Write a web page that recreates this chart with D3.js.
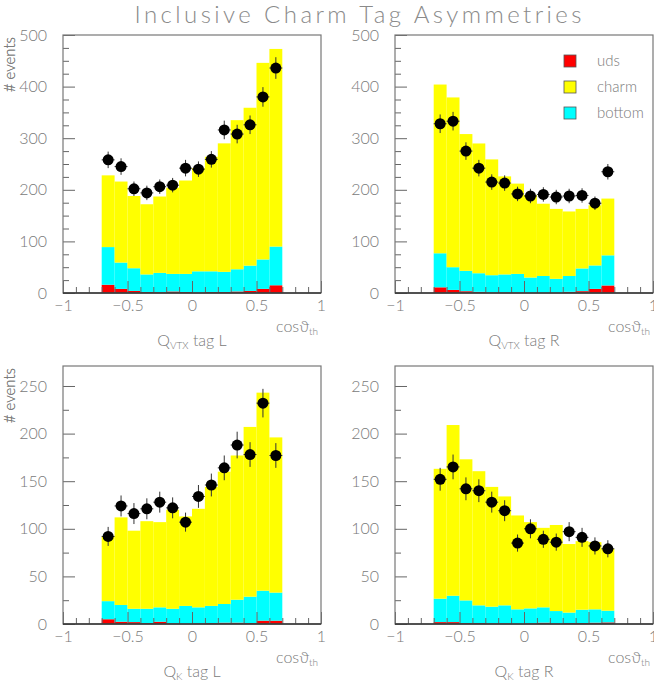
<!DOCTYPE html>
<html>
<head>
<meta charset="utf-8">
<script src="https://cdn.jsdelivr.net/npm/d3@7"></script>
<style>
    body { margin: 0; background: #fff; }
    svg { display: block; }
    text { font-family: Lato, "Liberation Sans", sans-serif; font-weight: 300; fill: #7a7a7a; }
</style>
</head>
<body>
<div id="chart"></div>
<script>
/**
 * Inclusive charm tag asymmetries: four stacked histograms (uds, bottom, charm)
 * with the measured data drawn on top as points with error bars.
 */

// lower edges of the cos(theta) bins, width 0.1
var binLow = [-0.7, -0.6, -0.5, -0.4, -0.3, -0.2, -0.1, 0.0, 0.1, 0.2, 0.3, 0.4, 0.5, 0.6];
var binWidth = 0.1;
var species = ["uds", "bottom", "charm"];
var legendNames = ["uds", "charm", "bottom"];

// Q_vtx tag L
var vtxL_uds    = [16, 8, 4, 2, 1.5, 3, 2, 1, 2, 2, 3, 4, 8, 15];
var vtxL_bottom = [73, 51, 44, 34, 37.5, 34, 35, 41, 40, 39, 43, 49, 57, 75];
var vtxL_charm  = [139, 157, 140, 136, 148, 167, 181, 200, 222, 249, 289, 306, 381, 383];
var vtxL_data   = [258, 245, 202, 194, 206, 209, 242, 240, 259, 316, 308, 326, 380, 436];
var vtxL_err    = [16, 16, 14, 14, 14, 14, 16, 15, 16, 18, 18, 18, 19, 21];

// Q_vtx tag R
var vtxR_uds    = [11, 6, 3.5, 2.3, 1, 1, 1, 0.3, 0.3, 0.3, 2.3, 3.6, 8, 14.6];
var vtxR_bottom = [66, 44, 39.5, 36, 33.5, 35, 36, 29.7, 32.7, 27.2, 30.7, 44, 45.4, 58.4];
var vtxR_charm  = [327, 329, 265, 251.5, 224.4, 190, 175, 160, 140, 135.5, 125, 115.4, 116.6, 110];
var vtxR_data   = [328, 333, 275, 242, 215, 213, 192, 188, 191, 186, 188, 189, 174, 235];
var vtxR_err    = [18, 18, 17, 16, 15, 15, 14, 14, 14, 14, 14, 14, 13, 15];

// Q_K tag L
var kL_uds    = [5, 2.4, 2, 1, 2.4, 0.7, 0.3, 0.7, 1, 1.4, 1.4, 1, 3.5, 3.5];
var kL_bottom = [19, 17.6, 14, 15, 15.1, 15.3, 18.7, 16.8, 18, 19.6, 24.1, 27.7, 31.5, 29.5];
var kL_charm  = [68, 92, 82, 92, 89.5, 104, 94, 103.5, 125, 139, 151.5, 178.3, 208, 163];
var kL_data   = [92, 124, 116, 121, 128, 122, 107, 134, 146, 164, 188, 178, 232, 177];
var kL_err    = [10, 11, 11, 11, 11, 11, 10, 12, 12, 13, 14, 13, 15, 13];

// Q_K tag R
var kR_uds    = [2, 2, 1, 1, 0.7, 0.7, 0.3, 0.7, 1.4, 0.7, 1, 1, 1.4, 1.7];
var kR_bottom = [24.6, 27.7, 23.8, 18.6, 17.5, 18.9, 15.1, 15.7, 16.1, 12.9, 11, 14, 14, 12.3];
var kR_charm  = [136.4, 179.3, 148.2, 140.9, 125.8, 114.4, 98.6, 90.6, 83.5, 90.4, 72, 72, 70.6, 65];
var kR_data   = [152, 165, 142, 140, 128, 119, 85, 100, 89, 86, 97, 91, 82, 79];
var kR_err    = [12, 13, 12, 12, 11, 11, 9, 10, 9, 9, 10, 10, 9, 9];

// tick values
var xMajorTicks = [-1, -0.5, 0, 0.5, 1];
var xMinorTicks = [-0.9, -0.8, -0.7, -0.6, -0.4, -0.3, -0.2, -0.1, 0.1, 0.2, 0.3, 0.4, 0.6, 0.7, 0.8, 0.9];
var yTopMajor = [0, 100, 200, 300, 400, 500];
var yTopMinor = [25, 50, 75, 125, 150, 175, 225, 250, 275, 325, 350, 375, 425, 450, 475];
var yBotMajor = [0, 50, 100, 150, 200, 250];
var yBotMinor = [25, 75, 125, 175, 225];

var colors = { uds: "#ff0000", bottom: "#00ffff", charm: "#ffff00" };

var svg = d3.select("#chart").append("svg")
    .attr("width", 654)
    .attr("height", 684);

// the overall title
svg.append("text")
    .attr("x", 358)
    .attr("y", 23)
    .attr("text-anchor", "middle")
    .attr("font-size", 24)
    .attr("textLength", 447)
    .attr("lengthAdjust", "spacing")
    .style("fill", "#8a8a8a")
    .text("Inclusive Charm Tag Asymmetries");

var panels = [
    { left: 63,  top: 35,  yMax: 500, major: yTopMajor, minor: yTopMinor, q: "VTX", side: "L",
      uds: vtxL_uds, bottom: vtxL_bottom, charm: vtxL_charm, data: vtxL_data, err: vtxL_err, legend: false },
    { left: 395, top: 35,  yMax: 500, major: yTopMajor, minor: yTopMinor, q: "VTX", side: "R",
      uds: vtxR_uds, bottom: vtxR_bottom, charm: vtxR_charm, data: vtxR_data, err: vtxR_err, legend: true },
    { left: 63,  top: 366, yMax: 271, major: yBotMajor, minor: yBotMinor, q: "K", side: "L",
      uds: kL_uds, bottom: kL_bottom, charm: kL_charm, data: kL_data, err: kL_err, legend: false },
    { left: 395, top: 366, yMax: 271, major: yBotMajor, minor: yBotMinor, q: "K", side: "R",
      uds: kR_uds, bottom: kR_bottom, charm: kR_charm, data: kR_data, err: kR_err, legend: false }
];

var frameW = 258, frameH = 258;

panels.forEach(function (p) {
    drawPanel(p);
});

/**
 * draws one histogram panel with its frame, axes, labels and data points
 */
function drawPanel(p) {
    var g = svg.append("g").attr("transform", "translate(" + p.left + "," + p.top + ")");

    var x = d3.scaleLinear().domain([-1, 1]).range([0, frameW]);
    var y = d3.scaleLinear().domain([0, p.yMax]).range([frameH, 0]);

    // rows for the stack, one per bin
    var rows = binLow.map(function (lo, i) {
        return { lo: lo, uds: p.uds[i], bottom: p.bottom[i], charm: p.charm[i] };
    });

    // stacked bars
    g.append("g")
        .selectAll("g")
        .data(d3.stack().keys(species)(rows))
        .enter().append("g")
        .attr("fill", function (d) { return colors[d.key]; })
        .selectAll("rect")
        .data(function (d) { return d; })
        .enter().append("rect")
        .attr("x", function (d) { return x(d.data.lo); })
        .attr("width", function (d) { return x(d.data.lo + binWidth) - x(d.data.lo); })
        .attr("y", function (d) { return y(d[1]); })
        .attr("height", function (d) { return y(d[0]) - y(d[1]); });

    // minor and major ticks, drawn inside the frame
    var tickColor = "#666";
    g.append("g")
        .attr("transform", "translate(0," + frameH + ")")
        .call(d3.axisBottom(x).tickValues(xMinorTicks).tickSize(-6).tickFormat(""))
        .call(styleAxis, tickColor);
    g.append("g")
        .attr("transform", "translate(0," + frameH + ")")
        .call(d3.axisBottom(x).tickValues(xMajorTicks).tickSize(-12).tickPadding(7)
            .tickFormat(function (d) { return d3.format("")(d); }))
        .call(styleAxis, tickColor);
    g.append("g")
        .call(d3.axisLeft(y).tickValues(p.minor).tickSize(-6).tickFormat(""))
        .call(styleAxis, tickColor);
    g.append("g")
        .call(d3.axisLeft(y).tickValues(p.major).tickSize(-12).tickPadding(16))
        .call(styleAxis, tickColor);

    // frame
    g.append("rect")
        .attr("width", frameW)
        .attr("height", frameH)
        .attr("fill", "none")
        .attr("stroke", "#777")
        .attr("stroke-width", 1.2);
    g.append("line")
        .attr("x1", 0).attr("x2", frameW)
        .attr("y1", frameH).attr("y2", frameH)
        .attr("stroke", "#333")
        .attr("stroke-width", 1.5);

    // data points with error bars
    var pts = g.append("g");
    binLow.forEach(function (lo, i) {
        var cx = x(lo + binWidth / 2);
        pts.append("line")
            .attr("x1", cx).attr("x2", cx)
            .attr("y1", y(p.data[i] - p.err[i])).attr("y2", y(p.data[i] + p.err[i]))
            .attr("stroke", "#333").attr("stroke-width", 1);
        pts.append("line")
            .attr("x1", x(lo)).attr("x2", x(lo + binWidth))
            .attr("y1", y(p.data[i])).attr("y2", y(p.data[i]))
            .attr("stroke", "#333").attr("stroke-width", 1);
        pts.append("circle")
            .attr("cx", cx)
            .attr("cy", y(p.data[i]))
            .attr("r", 5.5)
            .attr("fill", "#000");
    });

    // y axis title
    g.append("text")
        .attr("transform", "translate(" + (15 - p.left) + ",2) rotate(-90)")
        .attr("text-anchor", "end")
        .attr("font-size", 15)
        .text("# events");

    // x axis title (cos theta)
    var cosLabel = g.append("text")
        .attr("x", frameW - 3)
        .attr("y", 297)
        .attr("text-anchor", "end")
        .attr("font-size", 16);
    cosLabel.append("tspan").text("cos\u03d1");
    cosLabel.append("tspan").attr("font-size", 10).attr("dy", 3).text("th");

    // panel label below
    var lab = g.append("text")
        .attr("x", frameW / 2)
        .attr("y", 311)
        .attr("text-anchor", "middle")
        .attr("font-size", 16);
    lab.append("tspan").text("Q");
    lab.append("tspan").attr("font-size", 10).attr("dy", 3).text(p.q);
    lab.append("tspan").attr("dy", -3).text(" tag " + p.side);

    if (p.legend) {
        var legend = g.append("g")
            .selectAll("g")
            .data(legendNames)
            .enter().append("g")
            .attr("transform", function (d, i) { return "translate(169," + (20 + i * 26) + ")"; });
        legend.append("rect")
            .attr("width", 12)
            .attr("height", 12)
            .attr("fill", function (d) { return colors[d]; })
            .attr("stroke", "#555")
            .attr("stroke-width", 0.8);
        legend.append("text")
            .attr("x", 33)
            .attr("y", 6)
            .attr("dy", "0.35em")
            .attr("font-size", 15)
            .text(function (d) { return d; });
    }
}

function styleAxis(sel, color) {
    sel.select(".domain").remove();
    sel.selectAll("line").attr("stroke", color);
    sel.selectAll("text")
        .attr("font-size", 16)
        .style("font-family", "Lato, 'Liberation Sans', sans-serif")
        .style("font-weight", 300)
        .style("fill", "#7a7a7a");
}
</script>
</body>
</html>
